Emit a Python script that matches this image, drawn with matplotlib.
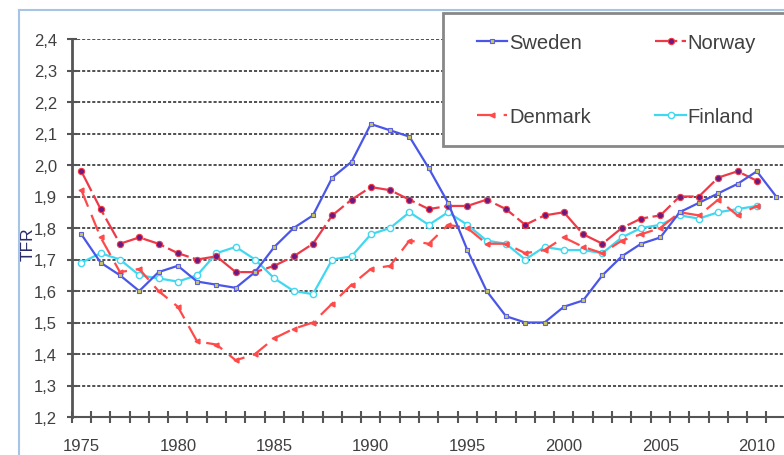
import matplotlib.pyplot as plt
from matplotlib.patches import Rectangle
from matplotlib.lines import Line2D
from matplotlib.ticker import FuncFormatter, FixedLocator

# Veriler (TFR, 1975-2011)
years = list(range(1975, 2012))
sweden = [1.78, 1.69, 1.65, 1.60, 1.66, 1.68, 1.63, 1.62, 1.61, 1.66,
          1.74, 1.80, 1.84, 1.96, 2.01, 2.13, 2.11, 2.09, 1.99, 1.88,
          1.73, 1.60, 1.52, 1.50, 1.50, 1.55, 1.57, 1.65, 1.71, 1.75,
          1.77, 1.85, 1.88, 1.91, 1.94, 1.98, 1.90]
norway = [1.98, 1.86, 1.75, 1.77, 1.75, 1.72, 1.70, 1.71, 1.66, 1.66,
          1.68, 1.71, 1.75, 1.84, 1.89, 1.93, 1.92, 1.89, 1.86, 1.87,
          1.87, 1.89, 1.86, 1.81, 1.84, 1.85, 1.78, 1.75, 1.80, 1.83,
          1.84, 1.90, 1.90, 1.96, 1.98, 1.95]
denmark = [1.92, 1.77, 1.66, 1.67, 1.60, 1.55, 1.44, 1.43, 1.38, 1.40,
           1.45, 1.48, 1.50, 1.56, 1.62, 1.67, 1.68, 1.76, 1.75, 1.81,
           1.80, 1.75, 1.75, 1.72, 1.73, 1.77, 1.74, 1.72, 1.76, 1.78,
           1.80, 1.85, 1.84, 1.89, 1.84, 1.87]
finland = [1.69, 1.72, 1.70, 1.65, 1.64, 1.63, 1.65, 1.72, 1.74, 1.70,
           1.64, 1.60, 1.59, 1.70, 1.71, 1.78, 1.80, 1.85, 1.81, 1.85,
           1.81, 1.76, 1.75, 1.70, 1.74, 1.73, 1.73, 1.72, 1.77, 1.80,
           1.81, 1.84, 1.83, 1.85, 1.86, 1.87]
y_ticks = [1.2, 1.3, 1.4, 1.5, 1.6, 1.7, 1.8, 1.9, 2.0, 2.1, 2.2, 2.3, 2.4]
x_labels = [1975, 1980, 1985, 1990, 1995, 2000, 2005, 2010]

plt.rcParams['font.family'] = ['Liberation Sans', 'DejaVu Sans']

W, H = 784, 456
fig = plt.figure(figsize=(W / 100, H / 100), dpi=100)

# Çizim alanı: 1975 -> x=81.7 px, yıl başına 19.3 px
px_year = 19.3
x0 = 71.7
ax = fig.add_axes([x0 / W, 1 - 418 / H, (W - x0) / W, (418 - 40) / H])
ax.set_xlim(1974.5, 1974.5 + (W - x0) / px_year)
ax.set_ylim(1.2, 2.4)

# Izgara çizgileri
for v in y_ticks:
    ax.axhline(v, color='#505050', lw=1.4, ls=(0, (1.6, 1.0)), zorder=1)

sw = dict(color='#4a56e8', lw=1.6, marker='s', ms=3.5, mfc='#c8c860',
          mec='#5a60e0', mew=0.8)
no = dict(color='#ee3a48', lw=1.6, ls=(0, (10, 2)), marker='o', ms=4.5,
          mfc='#6a1a80', mec='#ee3a48', mew=0.8)
dk = dict(color='#ff4a4a', lw=1.6, ls=(0, (8, 4)), marker='<', ms=3.5,
          mfc='#ff4a4a', mec='#ff4a4a')
fi = dict(color='#40d8f0', lw=1.6, marker='o', ms=4.5, mfc='white',
          mec='#40d8f0', mew=1.0)

ax.plot(years[:len(finland)], finland, zorder=3, **fi)
ax.plot(years[:len(denmark)], denmark, zorder=3, **dk)
ax.plot(years[:len(norway)], norway, zorder=4, **no)
ax.plot(years[:len(sweden)], sweden, zorder=5, **sw)

# Eksenler
for s in ['top', 'right']:
    ax.spines[s].set_visible(False)
ax.spines['left'].set_color('#555555')
ax.spines['left'].set_linewidth(2)
ax.spines['bottom'].set_color('#555555')
ax.spines['bottom'].set_linewidth(1.5)

ax.set_yticks(y_ticks)
ax.yaxis.set_major_formatter(FuncFormatter(lambda v, p: f'{v:.1f}'.replace('.', ',')))
ax.tick_params(axis='y', direction='inout', length=7, width=1.5, color='#555555',
               labelsize=12, labelcolor='#404040', pad=7)

ax.xaxis.set_major_locator(FixedLocator([y - 0.5 for y in range(1975, 2013)]))
ax.xaxis.set_major_formatter(FuncFormatter(lambda v, p: ''))
ax.xaxis.set_minor_locator(FixedLocator(x_labels))
ax.xaxis.set_minor_formatter(FuncFormatter(lambda v, p: f'{int(v)}'))
ax.tick_params(axis='x', which='major', direction='inout', length=8, width=1.5,
               color='#555555')
ax.tick_params(axis='x', which='minor', length=0, labelsize=12,
               labelcolor='#404040', pad=15)

fig.text(28 / W, 1 - 244 / H, 'TFR', rotation=90, ha='center', va='center',
         fontsize=12.5, color='#2a2a6a')

# Grafik çerçevesi
fig.add_artist(Line2D([19 / W, 19 / W], [0, 1 - 11 / H], color='#a8c4e4', lw=1.5))
fig.add_artist(Line2D([19 / W, 1], [1 - 11 / H, 1 - 11 / H], color='#a8c4e4', lw=1.5))

# Lejant kutusu
fig.add_artist(Rectangle((443 / W, 1 - 147 / H), (W - 443 + 10) / W, (147 - 14) / H,
                         facecolor='white', edgecolor='#888888', lw=2, zorder=10))

handles = [Line2D([], [], **sw), Line2D([], [], **dk),
           Line2D([], [], **no), Line2D([], [], **fi)]
labels = ['Sweden', 'Denmark', 'Norway', 'Finland']
leg = fig.legend(handles, labels, ncol=2, loc='upper left',
                 bbox_to_anchor=(477 / W, 1 - 34 / H), frameon=False,
                 fontsize=14.5, handlelength=1.5, handletextpad=0.1,
                 columnspacing=3.2, labelspacing=2.75, borderpad=0,
                 borderaxespad=0, numpoints=1)
leg.set_zorder(11)
for t in leg.get_texts():
    t.set_color('#404040')

fig.savefig('out.png', dpi=100)
